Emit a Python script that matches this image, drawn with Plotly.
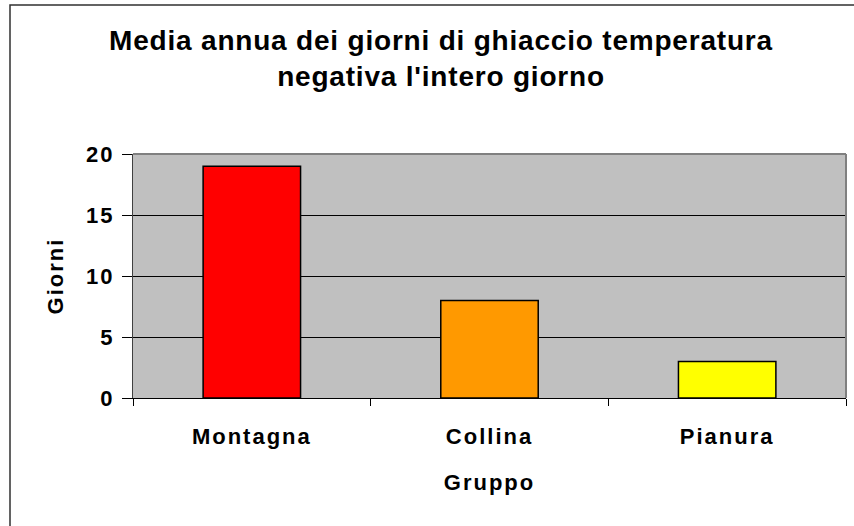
import plotly.graph_objects as go

categories = ["Montagna", "Collina", "Pianura"]
values = [19, 8, 3]
colors = ["#FF0000", "#FF9900", "#FFFF00"]
y_ticks = [0, 5, 10, 15, 20]
title_text = "Media annua dei giorni di ghiaccio temperatura<br>negativa l'intero giorno"
x_title = "Gruppo"
y_title = "Giorni"

W, H = 854, 526
L, R, T, B = 133, 8, 154, 128
pw = W - L - R
ph = H - T - B

def px_x(x):
    return (x - L) / pw

def px_y(y):
    return (H - B - y) / ph

fig = go.Figure(go.Bar(
    x=categories, y=values,
    marker=dict(color=colors, line=dict(color="black", width=1.5)),
    width=0.41,
))

font = "Liberation Sans, Arial, sans-serif"
fig.update_layout(
    width=W, height=H,
    margin=dict(l=L, r=R, t=T, b=B),
    paper_bgcolor="white",
    plot_bgcolor="#C0C0C0",
    showlegend=False,
    font=dict(family=font, color="black"),
    title=dict(
        text=title_text,
        x=px_x(441), xref="paper", xanchor="center",
        y=1 - 50 / H, yanchor="middle",
        font=dict(size=28, family=font, weight="bold"),
    ),
    xaxis=dict(
        showgrid=False, ticks="outside", tickson="boundaries", ticklen=7,
        tickcolor="black", showline=True, linecolor="black", linewidth=1,
        tickfont=dict(size=22, family=font, weight="bold"), ticklabelstandoff=19,
        title=dict(text=x_title, font=dict(size=22, family=font, weight="bold"), standoff=26),
    ),
    yaxis=dict(
        range=[0, 20], tickvals=y_ticks, ticks="outside", ticklen=10, tickcolor="black",
        showgrid=True, gridcolor="black", gridwidth=1,
        showline=True, linecolor="#404040", linewidth=1, zeroline=False,
        tickfont=dict(size=22, family=font, weight="bold"), ticklabelstandoff=3,
        title=dict(text=y_title, font=dict(size=22, family=font, weight="bold"), standoff=20),
    ),
    shapes=[
        dict(type="line", xref="paper", yref="paper", x0=0, x1=1, y0=1, y1=1,
             line=dict(color="#808080", width=2)),
        dict(type="line", xref="paper", yref="paper", x0=1, x1=1, y0=0, y1=1,
             line=dict(color="#808080", width=2)),
        dict(type="rect", xref="paper", yref="paper",
             x0=px_x(10), x1=px_x(870), y0=px_y(540), y1=px_y(5),
             line=dict(color="#303030", width=1.5), layer="below"),
    ],
)

post = """
document.body.style.margin = '0';
var gd = document.getElementById('{plot_id}');
function fixSpacing() {
  gd.querySelectorAll('.xtick text, .ytick text, .g-xtitle text, .g-ytitle text').forEach(function(e){ e.style.letterSpacing = '2px'; });
  gd.querySelectorAll('.g-gtitle text').forEach(function(e){ e.style.letterSpacing = '0.8px'; });
}
fixSpacing();
setTimeout(fixSpacing, 0);
if (gd.on) { gd.on('plotly_afterplot', fixSpacing); }
"""

fig.write_html("out.html", post_script=post, config={"displayModeBar": False})
